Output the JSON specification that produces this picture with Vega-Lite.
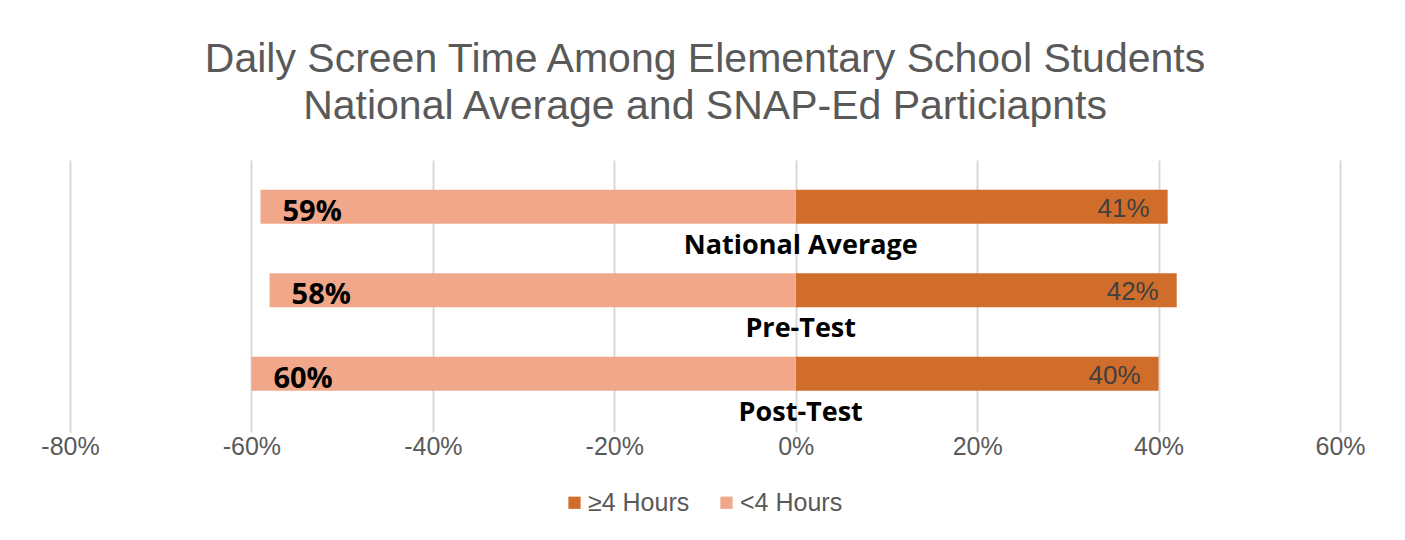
{
  "$schema": "https://vega.github.io/schema/vega-lite/v6.json",
  "width": 1270,
  "height": 272,
  "autosize": "none",
  "padding": {"left": 70, "top": 160, "right": 65, "bottom": 108},
  "background": "white",
  "config": {"view": {"stroke": null}},
  "title": {
    "text": ["Daily Screen Time Among Elementary School Students", "National Average  and SNAP-Ed Particiapnts"],
    "font": "Liberation Sans",
    "fontSize": 41,
    "fontWeight": "normal",
    "color": "#595959",
    "lineHeight": 47,
    "anchor": "middle",
    "frame": "group",
    "baseline": "bottom",
    "offset": -9
  },
  "data": {
    "values": [
      {"group": "National Average", "hours": "≥4 Hours", "value": 0.41, "pct": 0.41},
      {"group": "National Average", "hours": "<4 Hours", "value": -0.59, "pct": 0.59},
      {"group": "Pre-Test", "hours": "≥4 Hours", "value": 0.42, "pct": 0.42},
      {"group": "Pre-Test", "hours": "<4 Hours", "value": -0.58, "pct": 0.58},
      {"group": "Post-Test", "hours": "≥4 Hours", "value": 0.40, "pct": 0.40},
      {"group": "Post-Test", "hours": "<4 Hours", "value": -0.60, "pct": 0.60}
    ]
  },
  "encoding": {
    "y": {
      "field": "group",
      "type": "nominal",
      "sort": ["National Average", "Pre-Test", "Post-Test"],
      "scale": {"paddingInner": 0.593, "paddingOuter": 0.425, "align": 0.42},
      "axis": null
    }
  },
  "layer": [
    {
      "mark": {"type": "bar"},
      "encoding": {
        "x": {
          "field": "value",
          "type": "quantitative",
          "scale": {"domain": [-0.8, 0.6], "nice": false, "zero": false},
          "axis": {
            "values": [-0.8, -0.6, -0.4, -0.2, 0, 0.2, 0.4, 0.6],
            "format": ".0%",
            "labelExpr": "replace(datum.label, '−', '-')",
            "labelFlush": false,
            "title": null,
            "domain": false,
            "ticks": false,
            "grid": true,
            "gridColor": "#D9D9D9",
            "gridWidth": 2,
            "labelFont": "Liberation Sans",
            "labelFontSize": 25,
            "labelColor": "#595959",
            "labelPadding": 2
          }
        },
        "x2": {"datum": 0},
        "color": {
          "field": "hours",
          "type": "nominal",
          "scale": {"domain": ["≥4 Hours", "<4 Hours"], "range": ["#D06D2B", "#F0A78A"]},
          "legend": {
            "title": null,
            "orient": "none",
            "direction": "horizontal",
            "legendX": 492,
            "legendY": 330,
            "symbolType": "square",
            "symbolSize": 150,
            "symbolStrokeWidth": 0,
            "labelFont": "Liberation Sans",
            "labelFontSize": 25,
            "labelColor": "#595959",
            "labelOffset": 1,
            "columnPadding": 24
          }
        }
      }
    },
    {
      "transform": [{"filter": "datum.hours === '<4 Hours'"}],
      "mark": {"type": "text", "align": "left", "baseline": "alphabetic", "dx": 22, "dy": 14, "font": "Open Sans", "fontWeight": "bold", "fontSize": 29, "color": "#000000"},
      "encoding": {
        "x": {"field": "value", "type": "quantitative"},
        "text": {"field": "pct", "type": "quantitative", "format": ".0%"}
      }
    },
    {
      "transform": [{"filter": "datum.hours === '≥4 Hours'"}],
      "mark": {"type": "text", "align": "right", "baseline": "alphabetic", "dx": -18, "dy": 10, "font": "Liberation Sans", "fontSize": 26, "color": "#404040"},
      "encoding": {
        "x": {"field": "value", "type": "quantitative"},
        "text": {"field": "pct", "type": "quantitative", "format": ".0%"}
      }
    },
    {
      "transform": [{"filter": "datum.hours === '≥4 Hours'"}],
      "mark": {"type": "text", "align": "center", "baseline": "alphabetic", "dx": 5, "dy": 47, "font": "Open Sans", "fontWeight": "bold", "fontSize": 27, "color": "#000000"},
      "encoding": {
        "x": {"datum": 0},
        "text": {"field": "group", "type": "nominal"}
      }
    }
  ]
}
